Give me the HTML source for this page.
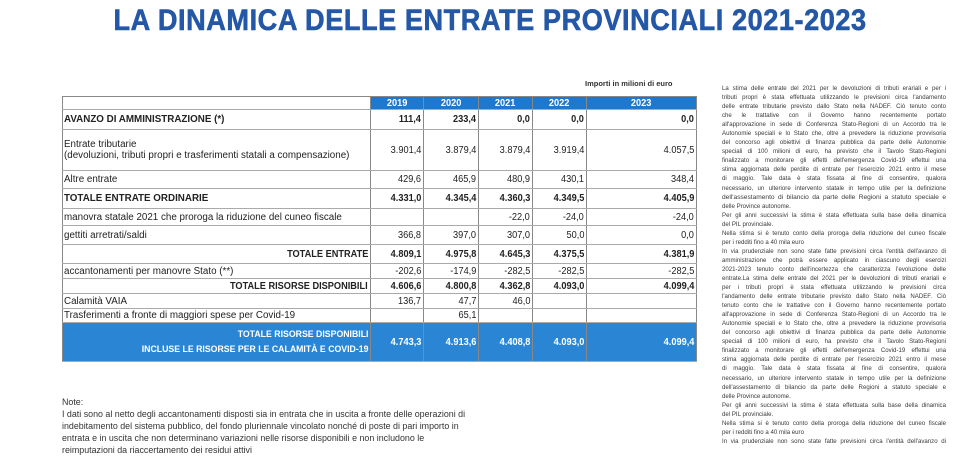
<!DOCTYPE html>
<html><head><meta charset="utf-8"><style>
*{margin:0;padding:0;box-sizing:border-box}
body{width:980px;height:450px;background:#fff;position:relative;overflow:hidden;font-family:"Liberation Sans",sans-serif;color:#222}
.t{position:absolute;left:0;top:4px;width:980px;text-align:center}
.t span{display:inline-block;font-weight:bold;font-size:30px;color:#2458a6;transform:scaleX(.905);transform-origin:center;white-space:nowrap;letter-spacing:.6px;-webkit-text-stroke:.6px #2458a6}
.imp{position:absolute;left:585px;top:79px;font-size:7.5px;font-weight:bold;color:#333;white-space:nowrap}
.row{position:absolute;left:62px;width:635px;border-bottom:1px solid #aaa}
.c{position:absolute;top:0;height:100%;border-left:1px solid #888;display:flex;align-items:center;overflow:visible;white-space:nowrap}
.lab{left:0;width:308px;padding-left:1px}
.r{justify-content:flex-end;padding-right:2px}
.sl{display:inline-block;transform:scaleX(.98);transform-origin:left center;font-size:10px}
.sr{display:inline-block;transform:scaleX(.92);transform-origin:right center;font-size:10px}
.b{font-weight:bold}
.v1{left:308px;width:53px}.v2{left:361px;width:55px}.v3{left:416px;width:54px}.v4{left:470px;width:54px}.v5{left:524px;width:111px;border-right:1px solid #888}
.hd .c{background:#1f78cc;color:#fff;justify-content:center;font-weight:bold}
.hd .lab{background:#fff}
.blue .c{background:#2a86d4;color:#fff}
.rt{position:absolute;left:722px;top:84px;width:224px;font-size:6.1px;color:#3a3a3a;line-height:9.05px}
.rt div{text-align:justify;text-align-last:justify;white-space:nowrap;overflow:hidden;height:9.05px}
.rt div.l{text-align-last:left}
.nt{position:absolute;left:62px;top:396px;font-size:8.9px;color:#333;line-height:12px;white-space:nowrap}
</style></head><body>
<div class="t"><span>LA DINAMICA DELLE ENTRATE PROVINCIALI 2021-2023</span></div>
<div class="imp">Importi in milioni di euro</div>

<div class="row hd" style="top:96px;height:14px;border-top:1px solid #888">
<div class="c lab"></div><div class="c v1"><span class="sr" style="transform-origin:center">2019</span></div><div class="c v2"><span class="sr" style="transform-origin:center">2020</span></div><div class="c v3"><span class="sr" style="transform-origin:center">2021</span></div><div class="c v4"><span class="sr" style="transform-origin:center">2022</span></div><div class="c v5"><span class="sr" style="transform-origin:center">2023</span></div></div>

<div class="row b" style="top:110px;height:20px">
<div class="c lab"><span class="sl">AVANZO DI AMMINISTRAZIONE (*)</span></div><div class="c r v1"><span class="sr">111,4</span></div><div class="c r v2"><span class="sr">233,4</span></div><div class="c r v3"><span class="sr">0,0</span></div><div class="c r v4"><span class="sr">0,0</span></div><div class="c r v5"><span class="sr">0,0</span></div></div>

<div class="row" style="top:130px;height:41px">
<div class="c lab"><span class="sl" style="line-height:11px">Entrate tributarie<br>(devoluzioni, tributi propri e trasferimenti statali a compensazione)</span></div><div class="c r v1"><span class="sr">3.901,4</span></div><div class="c r v2"><span class="sr">3.879,4</span></div><div class="c r v3"><span class="sr">3.879,4</span></div><div class="c r v4"><span class="sr">3.919,4</span></div><div class="c r v5"><span class="sr">4.057,5</span></div></div>

<div class="row" style="top:171px;height:18px">
<div class="c lab"><span class="sl">Altre entrate</span></div><div class="c r v1"><span class="sr">429,6</span></div><div class="c r v2"><span class="sr">465,9</span></div><div class="c r v3"><span class="sr">480,9</span></div><div class="c r v4"><span class="sr">430,1</span></div><div class="c r v5"><span class="sr">348,4</span></div></div>

<div class="row b" style="top:189px;height:20px">
<div class="c lab"><span class="sl">TOTALE ENTRATE ORDINARIE</span></div><div class="c r v1"><span class="sr">4.331,0</span></div><div class="c r v2"><span class="sr">4.345,4</span></div><div class="c r v3"><span class="sr">4.360,3</span></div><div class="c r v4"><span class="sr">4.349,5</span></div><div class="c r v5"><span class="sr">4.405,9</span></div></div>

<div class="row" style="top:209px;height:17px">
<div class="c lab"><span class="sl">manovra statale 2021 che proroga la riduzione del cuneo fiscale</span></div><div class="c r v1"></div><div class="c r v2"></div><div class="c r v3"><span class="sr">-22,0</span></div><div class="c r v4"><span class="sr">-24,0</span></div><div class="c r v5"><span class="sr">-24,0</span></div></div>

<div class="row" style="top:226px;height:19px">
<div class="c lab"><span class="sl">gettiti arretrati/saldi</span></div><div class="c r v1"><span class="sr">366,8</span></div><div class="c r v2"><span class="sr">397,0</span></div><div class="c r v3"><span class="sr">307,0</span></div><div class="c r v4"><span class="sr">50,0</span></div><div class="c r v5"><span class="sr">0,0</span></div></div>

<div class="row b" style="top:245px;height:19px">
<div class="c lab r"><span class="sr">TOTALE ENTRATE</span></div><div class="c r v1"><span class="sr">4.809,1</span></div><div class="c r v2"><span class="sr">4.975,8</span></div><div class="c r v3"><span class="sr">4.645,3</span></div><div class="c r v4"><span class="sr">4.375,5</span></div><div class="c r v5"><span class="sr">4.381,9</span></div></div>

<div class="row" style="top:264px;height:15px">
<div class="c lab"><span class="sl">accantonamenti per manovre Stato (**)</span></div><div class="c r v1"><span class="sr">-202,6</span></div><div class="c r v2"><span class="sr">-174,9</span></div><div class="c r v3"><span class="sr">-282,5</span></div><div class="c r v4"><span class="sr">-282,5</span></div><div class="c r v5"><span class="sr">-282,5</span></div></div>

<div class="row b" style="top:279px;height:15px">
<div class="c lab r"><span class="sr">TOTALE RISORSE DISPONIBILI</span></div><div class="c r v1"><span class="sr">4.606,6</span></div><div class="c r v2"><span class="sr">4.800,8</span></div><div class="c r v3"><span class="sr">4.362,8</span></div><div class="c r v4"><span class="sr">4.093,0</span></div><div class="c r v5"><span class="sr">4.099,4</span></div></div>

<div class="row" style="top:294px;height:15px">
<div class="c lab"><span class="sl">Calamità VAIA</span></div><div class="c r v1"><span class="sr">136,7</span></div><div class="c r v2"><span class="sr">47,7</span></div><div class="c r v3"><span class="sr">46,0</span></div><div class="c r v4"></div><div class="c r v5"></div></div>

<div class="row" style="top:309px;height:14px">
<div class="c lab"><span class="sl">Trasferimenti a fronte di maggiori spese per Covid-19</span></div><div class="c r v1"></div><div class="c r v2"><span class="sr">65,1</span></div><div class="c r v3"></div><div class="c r v4"></div><div class="c r v5"></div></div>

<div class="row blue b" style="top:323px;height:39px">
<div class="c lab r"><span class="sr" style="text-align:right;line-height:15px;font-size:9.5px">TOTALE RISORSE DISPONIBILI<br>INCLUSE LE RISORSE PER LE CALAMITÀ E COVID-19</span></div><div class="c r v1"><span class="sr">4.743,3</span></div><div class="c r v2"><span class="sr">4.913,6</span></div><div class="c r v3"><span class="sr">4.408,8</span></div><div class="c r v4"><span class="sr">4.093,0</span></div><div class="c r v5"><span class="sr">4.099,4</span></div></div>

<div class="nt">Note:<br>I dati sono al netto degli accantonamenti disposti sia in entrata che in uscita a fronte delle operazioni di<br>indebitamento del sistema pubblico, del fondo pluriennale vincolato nonché di poste di pari importo in<br>entrata e in uscita che non determinano variazioni nelle risorse disponibili e non includono le<br>reimputazioni da riaccertamento dei residui attivi</div>

<div class="rt">
<div>La stima delle entrate del 2021 per le devoluzioni di tributi erariali e per i</div>
<div>tributi propri è stata effettuata utilizzando le previsioni circa l'andamento</div>
<div>delle entrate tributarie previsto dallo Stato nella NADEF. Ciò tenuto conto</div>
<div>che le trattative con il Governo hanno recentemente portato</div>
<div>all'approvazione in sede di Conferenza Stato-Regioni di un Accordo tra le</div>
<div>Autonomie speciali e lo Stato che, oltre a prevedere la riduzione provvisoria</div>
<div>del concorso agli obiettivi di finanza pubblica da parte delle Autonomie</div>
<div>speciali di 100 milioni di euro, ha previsto che il Tavolo Stato-Regioni</div>
<div>finalizzato a monitorare gli effetti dell'emergenza Covid-19 effettui una</div>
<div>stima aggiornata delle perdite di entrate per l'esercizio 2021 entro il mese</div>
<div>di maggio. Tale data è stata fissata al fine di consentire, qualora</div>
<div>necessario, un ulteriore intervento statale in tempo utile per la definizione</div>
<div style="font-size:6.6px">dell'assestamento di bilancio da parte delle Regioni a statuto speciale e</div>
<div class="l">delle Province autonome.</div>
<div>Per gli anni successivi la stima è stata effettuata sulla base della dinamica</div>
<div class="l">del PIL provinciale.</div>
<div>Nella stima si è tenuto conto della proroga della riduzione del cuneo fiscale</div>
<div class="l">per i redditi fino a 40 mila euro</div>
<div>In via prudenziale non sono state fatte previsioni circa l'entità dell'avanzo di</div>
<div>amministrazione che potrà essere applicato in ciascuno degli esercizi</div>
<div>2021-2023 tenuto conto dell'incertezza che caratterizza l'evoluzione delle</div>
<div>entrate.La stima delle entrate del 2021 per le devoluzioni di tributi erariali e</div>
<div>per i tributi propri è stata effettuata utilizzando le previsioni circa</div>
<div>l'andamento delle entrate tributarie previsto dallo Stato nella NADEF. Ciò</div>
<div>tenuto conto che le trattative con il Governo hanno recentemente portato</div>
<div>all'approvazione in sede di Conferenza Stato-Regioni di un Accordo tra le</div>
<div>Autonomie speciali e lo Stato che, oltre a prevedere la riduzione provvisoria</div>
<div>del concorso agli obiettivi di finanza pubblica da parte delle Autonomie</div>
<div>speciali di 100 milioni di euro, ha previsto che il Tavolo Stato-Regioni</div>
<div>finalizzato a monitorare gli effetti dell'emergenza Covid-19 effettui una</div>
<div>stima aggiornata delle perdite di entrate per l'esercizio 2021 entro il mese</div>
<div>di maggio. Tale data è stata fissata al fine di consentire, qualora</div>
<div>necessario, un ulteriore intervento statale in tempo utile per la definizione</div>
<div>dell'assestamento di bilancio da parte delle Regioni a statuto speciale e</div>
<div class="l">delle Province autonome.</div>
<div>Per gli anni successivi la stima è stata effettuata sulla base della dinamica</div>
<div class="l">del PIL provinciale.</div>
<div>Nella stima si è tenuto conto della proroga della riduzione del cuneo fiscale</div>
<div class="l">per i redditi fino a 40 mila euro</div>
<div>In via prudenziale non sono state fatte previsioni circa l'entità dell'avanzo di</div>
</div>
</body></html>
